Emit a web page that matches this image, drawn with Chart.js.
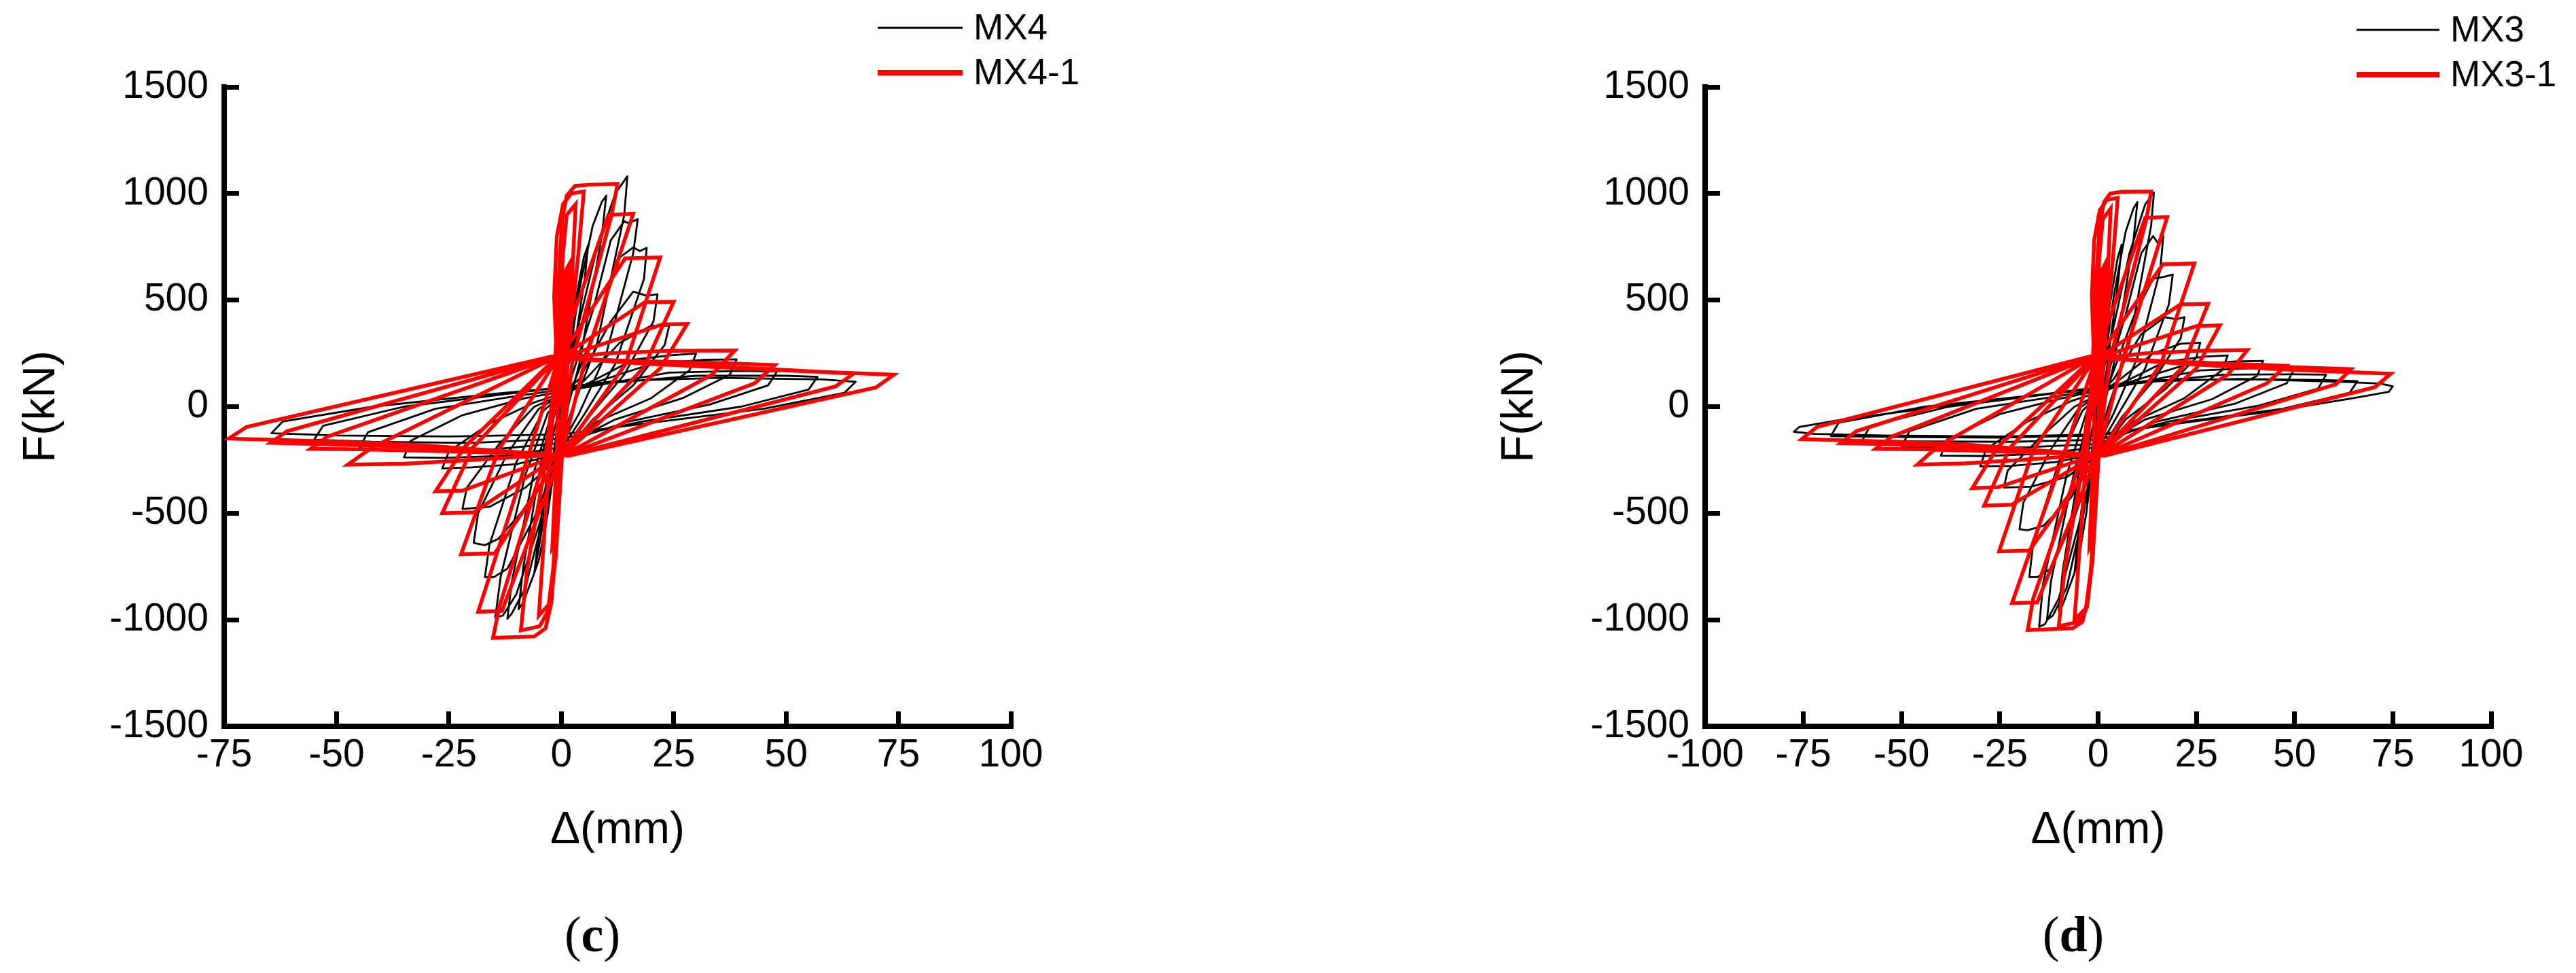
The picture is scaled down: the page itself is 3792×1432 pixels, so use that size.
<!DOCTYPE html>
<html>
<head>
<meta charset="utf-8">
<script src="https://cdn.jsdelivr.net/npm/chart.js@4.4.1/dist/chart.umd.min.js"></script>
<style>
  html, body { margin: 0; padding: 0; background: #fff; overflow: hidden; }
  #page { position: relative; width: 3792px; height: 1432px; }
  canvas { position: absolute; top: 0; }
  .cap { position: absolute; top: 1375px; transform: translate(-50%, -50%);
         font-family: 'Liberation Serif', serif; font-size: 74px; color: #000; }
</style>
</head>
<body>
<div id="page">
  <canvas id="panelC" width="1896" height="1300" style="left:0"></canvas>
  <canvas id="panelD" width="1896" height="1300" style="left:1896px"></canvas>
  <div class="cap" style="left:872px">(<b>c</b>)</div>
  <div class="cap" style="left:3052px">(<b>d</b>)</div>
</div>
<script>
// --- data: [displacement mm, force kN] ---

// (c) MX4 test curve (black)
const mx4Test = [
  [0,0],[1,200],[2,350],[3,420],[2.4,300],[0.5,50],[-1,-200],[-2.2,-380],[-3,-450],[-2.4,-320],[-0.5,-40],
  [1,180],[3,480],[5,700],[6,760],[5.2,600],[2,150],[-0.5,-120],[-3,-500],[-5,-720],[-6,-780],[-5,-600],[-2,-150],
  [1,120],[4,550],[7,850],[9,960],[10,990],[9,800],[4,200],[0.5,-80],[-3,-420],[-6,-780],[-8.5,-920],[-9.5,-950],[-8.5,-760],[-4,-200],
  [0,60],[4,400],[8,750],[12,1000],[14.7,1081],[14,900],[8,300],[3,20],[0,-150],[-4,-520],[-8,-850],[-11,-970],[-12,-995],[-11,-820],[-6,-300],[-2,-20],
  [2,120],[7,450],[11,780],[14,870],[15,860],[17,880],[16,720],[10,250],[4,-30],[0,-180],[-5,-560],[-10,-880],[-13,-980],[-14.7,-990],[-13.5,-800],[-8,-320],[-3,-30],
  [3,120],[9,450],[13,700],[16,747],[17.5,730],[19,745],[18.4,600],[12,200],[5,-40],[0,-200],[-6,-520],[-12,-760],[-15,-800],[-17,-800],[-16,-650],[-10,-260],[-4,-20],
  [4,130],[11,400],[16,540],[19,520],[21.4,527],[20.5,400],[14,150],[6,-50],[0,-220],[-7,-450],[-14,-620],[-17,-650],[-19.5,-640],[-18.5,-500],[-12,-220],[-5,-10],
  [5,120],[13,300],[20,380],[24,380],[23,290],[16,100],[7,-60],[0,-230],[-8,-380],[-16,-470],[-22,-480],[-21,-380],[-14,-180],[-6,0],
  [6,110],[16,220],[24,240],[30,250],[28.5,170],[20,40],[8,-70],[0,-220],[-10,-270],[-20,-285],[-26.5,-290],[-25,-210],[-16,-80],[-6,20],
  [7,110],[20,200],[32,220],[39,222],[37.5,150],[27,40],[12,-60],[0,-190],[-12,-230],[-26,-240],[-35,-238],[-33.5,-160],[-22,-40],[-8,40],
  [8,100],[24,160],[40,168],[48,165],[46,100],[33,10],[15,-70],[0,-170],[-15,-200],[-33,-205],[-45,-195],[-43,-120],[-28,-10],[-10,50],
  [10,110],[30,145],[50,145],[57,140],[55,80],[40,0],[18,-70],[0,-150],[-20,-170],[-42,-165],[-55,-155],[-53,-90],[-35,0],[-12,60],
  [12,120],[35,135],[58,128],[65.5,117],[63,65],[45,-10],[20,-75],[0,-130],[-25,-140],[-50,-135],[-64.5,-125],[-62,-70],[-42,0],[-15,60],[0,90]
];

// (c) MX4-1 model curve (red)
const mx4Model = [
  [0,0],
  [0.4,350],[1.0,640],[1.8,670],[0.8,220],[-0.2,-200],[-1.0,-620],[-2.0,-660],[-1.0,-210],[-0.6,220],
  [0.3,700],[1.2,900],[3.2,950],[1.8,350],[0.2,-220],[-1.2,-700],[-2.4,-920],[-5.0,-980],[-3.0,-350],[-1.0,200],
  [-1.6,520],[-1.0,800],[0.4,950],[2.2,1000],[5.0,1010],[3.8,720],[1.2,200],[-0.4,-300],[-1.8,-760],[-3.0,-960],[-4.8,-1030],[-9.0,-1050],[-7.6,-760],[-2.6,-160],[-1.4,200],
  [-0.6,600],[0.2,880],[1.2,990],[3.0,1035],[6.0,1042],[12.5,1045],[11.2,900],[2.5,220],[0.2,-200],[-1.0,-600],[-2.2,-920],[-3.5,-1040],[-6.0,-1078],[-15.2,-1085],[-13.8,-940],[-3.5,-230],[-1.0,210],
  [10.5,900],[16.0,905],[5.5,235],[0.3,-205],[-13.2,-958],[-18.5,-962],[-7.5,-240],[-0.8,215],
  [14.2,696],[22.0,700],[14.3,200],[0.5,-210],[-14.8,-688],[-22.3,-692],[-14.0,-205],[-1.0,220],
  [18.6,490],[25.0,492],[18.4,185],[0.6,-215],[-19.5,-496],[-26.5,-500],[-19.8,-195],[-1.2,222],
  [22.5,386],[28.0,388],[22.0,180],[0.8,-218],[-22.0,-394],[-28.0,-398],[-21.5,-188],[-1.4,225],
  [10,250],[24.5,262],[38.6,264],[33.5,150],[1.0,-222],[-20,-250],[-35,-268],[-47.5,-272],[-42,-190],[-1.6,228],
  [15,215],[35,205],[47.5,195],[43,110],[1.2,-225],[-25,-210],[-45,-200],[-55.8,-198],[-52,-140],[-1.8,230],
  [20,200],[45,178],[65,155],[61,95],[1.4,-228],[-30,-190],[-50,-178],[-64.7,-170],[-61,-115],[-2.0,232],
  [25,195],[50,170],[74,150],[70,90],[1.6,-230],[-35,-175],[-60,-158],[-74,-150],[-70,-95],[-2.2,235],[0,240]
];

// (d) MX3 test curve (black)
const mx3Test = [
  [0,0],[1,200],[2,350],[3,420],[2.4,300],[0.5,50],[-1,-200],[-2.2,-380],[-3,-450],[-2.4,-320],[-0.5,-40],
  [1,180],[3,480],[5,700],[6,760],[5.2,600],[2,150],[-0.5,-120],[-3,-500],[-5,-720],[-6,-780],[-5,-600],[-2,-150],
  [1,120],[4,520],[7,820],[9,930],[10,960],[9,780],[4,200],[0.5,-80],[-3,-420],[-6,-780],[-9,-930],[-10,-960],[-9,-770],[-4,-200],
  [0,60],[4,380],[8,720],[12,950],[14.2,1005],[13.5,850],[8,300],[3,20],[0,-150],[-4,-520],[-8,-850],[-11.5,-980],[-13,-1000],[-12,-820],[-6,-300],[-2,-20],
  [2,120],[7,430],[11,720],[14,800],[15.5,760],[16.6,800],[15.8,640],[10,230],[4,-30],[0,-180],[-5,-560],[-10,-900],[-13.5,-1020],[-15,-1033],[-14,-830],[-8,-320],[-3,-30],
  [3,120],[9,420],[14,600],[17,610],[19,620],[18,480],[12,180],[5,-40],[0,-200],[-6,-520],[-12,-760],[-15.5,-800],[-17.5,-800],[-16.5,-640],[-10,-260],[-4,-20],
  [4,130],[11,340],[17,420],[20,410],[22,420],[21,320],[14,120],[6,-50],[0,-220],[-7,-430],[-14,-560],[-18,-580],[-20,-575],[-19,-450],[-12,-200],[-5,-10],
  [5,120],[14,250],[21,295],[26,300],[25,230],[17,80],[7,-60],[0,-230],[-8,-330],[-17,-375],[-24,-380],[-23,-300],[-15,-150],[-6,0],
  [6,110],[17,210],[27,235],[33,240],[31.5,170],[22,40],[9,-70],[0,-220],[-11,-260],[-22,-278],[-30,-280],[-28.5,-200],[-18,-70],[-7,25],
  [7,110],[22,195],[35,212],[42,215],[40.5,145],[29,35],[12,-60],[0,-190],[-14,-220],[-29,-232],[-40,-230],[-38.5,-155],[-25,-35],[-9,40],
  [8,105],[26,170],[42,182],[50,180],[48,110],[35,15],[15,-70],[0,-175],[-18,-190],[-37,-192],[-50,-188],[-48,-115],[-31,-10],[-10,50],
  [10,110],[32,150],[50,152],[58,150],[56,85],[41,5],[18,-70],[0,-155],[-22,-165],[-45,-163],[-60,-158],[-58,-90],[-38,0],[-12,60],
  [12,118],[36,130],[58,125],[66,120],[64,65],[47,-10],[20,-75],[0,-135],[-25,-145],[-52,-142],[-68,-138],[-66,-75],[-44,0],[-14,58],
  [14,125],[40,128],[64,115],[72,108],[75,95],[74,70],[65,40],[45,-20],[20,-80],[0,-130],[-25,-140],[-55,-135],[-72,-128],[-77.4,-118],[-76,-95],[-65,-60],[-40,0],[-15,55],[0,85]
];

// (d) MX3-1 model curve (red)
const mx3Model = [
  [0,0],
  [0.4,350],[1.0,640],[1.8,670],[0.8,220],[-0.2,-200],[-1.2,-620],[-2.2,-660],[-1.2,-210],[-0.6,220],
  [0.3,700],[1.2,880],[3.2,930],[1.8,350],[0.2,-220],[-1.4,-720],[-2.8,-940],[-6.0,-1000],[-3.5,-360],[-1.0,200],
  [-1.6,520],[-1.0,780],[0.4,920],[2.2,970],[5.0,980],[3.8,700],[1.2,200],[-0.4,-300],[-1.8,-760],[-3.2,-960],[-5.0,-1010],[-10.0,-1030],[-8.5,-760],[-2.8,-160],[-1.4,200],
  [-0.5,600],[0.4,850],[1.5,960],[3.1,1000],[6.0,1008],[13.5,1010],[12.3,880],[3.0,220],[0.2,-200],[-1.2,-620],[-2.5,-900],[-4.0,-1010],[-6.5,-1040],[-17.9,-1048],[-16.5,-900],[-4.0,-230],[-1.0,210],
  [12.0,886],[17.6,890],[6.5,230],[0.3,-205],[-15.5,-918],[-21.9,-922],[-9.0,-240],[-0.8,215],
  [16.5,668],[24.5,672],[16.0,200],[0.5,-210],[-17.5,-675],[-25.2,-679],[-16.5,-205],[-1.0,220],
  [21.0,480],[28.0,483],[21.5,185],[0.6,-215],[-22.0,-460],[-29.0,-464],[-22.5,-195],[-1.2,222],
  [25.0,378],[31.0,381],[25.0,180],[0.8,-218],[-25.5,-378],[-32.0,-382],[-25.5,-188],[-1.4,225],
  [12,250],[26,262],[38,266],[33,150],[1.0,-222],[-20,-250],[-34,-266],[-46,-272],[-41,-190],[-1.6,228],
  [15,215],[35,200],[47.8,192],[43,110],[1.2,-225],[-25,-210],[-45,-200],[-56.6,-198],[-52.5,-140],[-1.8,230],
  [20,205],[45,188],[64.4,176],[60.5,105],[1.4,-228],[-30,-190],[-50,-178],[-65.5,-171],[-61.5,-115],[-2.0,232],
  [25,198],[50,172],[74.5,155],[70.5,92],[1.6,-230],[-35,-175],[-60,-160],[-75.4,-152],[-71.5,-95],[-2.2,235],[0,240]
];

const dispTicksC = [-75, -50, -25, 0, 25, 50, 75, 100];
const dispTicksD = [-100, -75, -50, -25, 0, 25, 50, 75, 100];
const forceTicks = [-1500, -1000, -500, 0, 500, 1000, 1500];

// --- drawing ---

const tickFont = { family: "'Liberation Sans', Arial, sans-serif", size: 57 };
const titleFont = { family: "'Liberation Sans', Arial, sans-serif", size: 66 };

// two-row legend drawn above the top-right corner of the plot
const lineKey = {
    id: 'lineKey',
    afterDraw(chart, args, opts) {
        const ctx = chart.ctx;
        ctx.save();
        ctx.font = opts.font;
        ctx.textBaseline = 'middle';
        ctx.textAlign = 'left';
        chart.data.datasets.forEach((ds, i) => {
            const y = opts.y + i * opts.rowGap;
            ctx.strokeStyle = ds.borderColor;
            ctx.lineWidth = opts.widths[i];
            ctx.beginPath();
            ctx.moveTo(opts.x, y);
            ctx.lineTo(opts.x + opts.length, y);
            ctx.stroke();
            ctx.fillStyle = '#000';
            ctx.fillText(ds.label, opts.x + opts.length + opts.gap, y + 2);
        });
        ctx.restore();
    }
};

const toPoints = arr => arr.map(([x, y]) => ({ x, y }));

function makePanel(id, p) {
    return new Chart(document.getElementById(id), {
        type: 'scatter',
        data: {
            datasets: [
                { label: p.names[0], data: toPoints(p.test), showLine: true, borderColor: '#000',
                  borderWidth: 2.8, borderJoinStyle: 'round', order: 1 },
                { label: p.names[1], data: toPoints(p.model), showLine: true, borderColor: '#f00',
                  borderWidth: 5.5, borderJoinStyle: 'miter', order: 0 }
            ]
        },
        options: {
            responsive: false,
            animation: false,
            events: [],
            elements: { point: { radius: 0 }, line: { tension: 0, fill: false } },
            layout: { padding: { left: 0, top: 128, right: p.padRight, bottom: 0 } },
            plugins: {
                legend: { display: false },
                tooltip: { enabled: false },
                lineKey: { x: p.keyX, y: p.keyY, length: p.keyLen, gap: 16, rowGap: 66,
                           widths: [3, 8], font: "53px 'Liberation Sans', Arial, sans-serif" }
            },
            scales: {
                x: {
                    type: 'linear',
                    min: p.xTicks[0],
                    max: p.xTicks[p.xTicks.length - 1],
                    afterBuildTicks: s => { s.ticks = p.xTicks.map(v => ({ value: v })); },
                    afterFit: s => { s.height = 231; },
                    border: { display: true, color: '#000', width: 8 },
                    grid: { drawOnChartArea: false, drawTicks: true, tickLength: -22, tickWidth: 7, tickColor: '#000' },
                    ticks: { color: '#000', font: tickFont, padding: 31, maxRotation: 0, autoSkip: false,
                             callback: v => String(v) },
                    title: { display: true, text: 'Δ(mm)', color: '#000', font: titleFont,
                             padding: { top: 0, bottom: 38 } }
                },
                y: {
                    type: 'linear',
                    min: forceTicks[0],
                    max: forceTicks[forceTicks.length - 1],
                    afterBuildTicks: s => { s.ticks = forceTicks.map(v => ({ value: v })); },
                    afterFit: s => { s.width = p.axisLeft; },
                    border: { display: true, color: '#000', width: 8 },
                    grid: { drawOnChartArea: false, drawTicks: true, tickLength: -22, tickWidth: 7, tickColor: '#000' },
                    ticks: { color: '#000', font: tickFont, padding: 45, autoSkip: false,
                             callback: v => String(v) },
                    title: { display: true, text: 'F(kN)', color: '#000', font: titleFont,
                             padding: { top: p.yTitlePad, bottom: 0 } }
                }
            }
        },
        plugins: [lineKey]
    });
}

makePanel('panelC', {
    names: ['MX4', 'MX4-1'], test: mx4Test, model: mx4Model, xTicks: dispTicksC,
    axisLeft: 330, padRight: 408, yTitlePad: 22,
    keyX: 1292, keyY: 41, keyLen: 125
});

makePanel('panelD', {
    names: ['MX3', 'MX3-1'], test: mx3Test, model: mx3Model, xTicks: dispTicksD,
    axisLeft: 614, padRight: 125, yTitlePad: 302,
    keyX: 1573, keyY: 44, keyLen: 122
});
</script>
</body>
</html>
